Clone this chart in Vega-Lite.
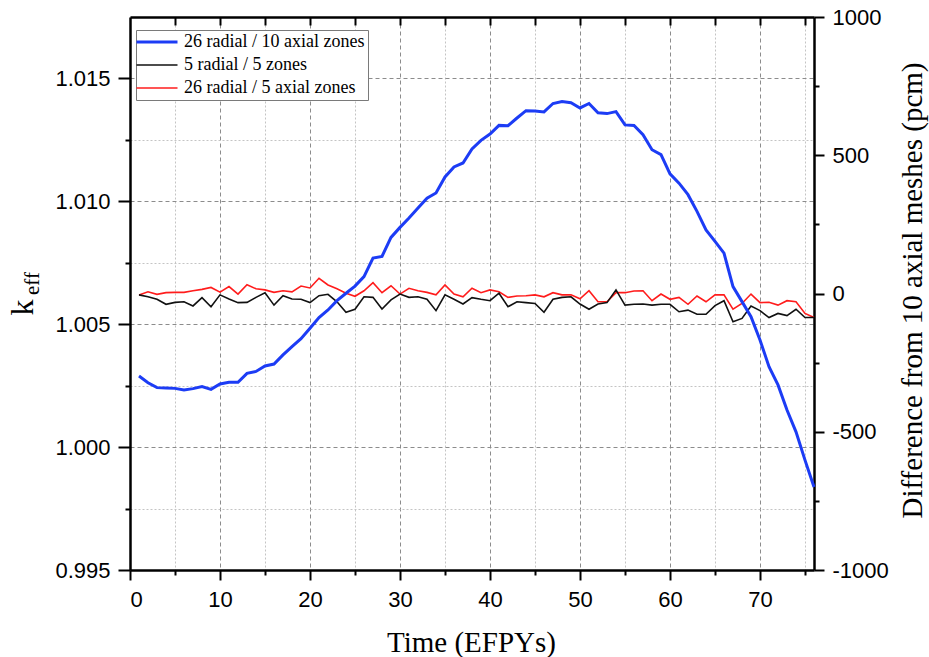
{
  "$schema": "https://vega.github.io/schema/vega-lite/v6.json",
  "width": 684,
  "height": 553,
  "autosize": {"type": "none"},
  "padding": {"left": 130, "top": 17, "right": 115, "bottom": 87},
  "background": "white",
  "config": {
    "view": {"stroke": null},
    "axis": {
      "labelFont": "Liberation Sans",
      "labelFontSize": 22,
      "labelColor": "black",
      "titleFont": "Liberation Serif",
      "titleFontWeight": "normal",
      "titleColor": "black",
      "domainColor": "black",
      "tickColor": "black",
      "domainWidth": 2.5,
      "tickWidth": 2
    }
  },
  "datasets": {
    "keff": [
      {"t":1,"k":1.00289},{"t":2,"k":1.00262},{"t":3,"k":1.00242},{"t":4,"k":1.00241},{"t":5,"k":1.00239},
      {"t":6,"k":1.00232},{"t":7,"k":1.00238},{"t":8,"k":1.00246},{"t":9,"k":1.00235},{"t":10,"k":1.00257},
      {"t":11,"k":1.00264},{"t":12,"k":1.00264},{"t":13,"k":1.00300},{"t":14,"k":1.00308},{"t":15,"k":1.00330},
      {"t":16,"k":1.00338},{"t":17,"k":1.00375},{"t":18,"k":1.00409},{"t":19,"k":1.00441},{"t":20,"k":1.00484},
      {"t":21,"k":1.00527},{"t":22,"k":1.00558},{"t":23,"k":1.00596},{"t":24,"k":1.00626},{"t":25,"k":1.00655},
      {"t":26,"k":1.00694},{"t":27,"k":1.00769},{"t":28,"k":1.00776},{"t":29,"k":1.00853},{"t":30,"k":1.00894},
      {"t":31,"k":1.00932},{"t":32,"k":1.00973},{"t":33,"k":1.01013},{"t":34,"k":1.01034},{"t":35,"k":1.01099},
      {"t":36,"k":1.01140},{"t":37,"k":1.01156},{"t":38,"k":1.01213},{"t":39,"k":1.01248},{"t":40,"k":1.01274},
      {"t":41,"k":1.01309},{"t":42,"k":1.01308},{"t":43,"k":1.01339},{"t":44,"k":1.01369},{"t":45,"k":1.01368},
      {"t":46,"k":1.01364},{"t":47,"k":1.01398},{"t":48,"k":1.01406},{"t":49,"k":1.01401},{"t":50,"k":1.01380},
      {"t":51,"k":1.01398},{"t":52,"k":1.01360},{"t":53,"k":1.01357},{"t":54,"k":1.01365},{"t":55,"k":1.01311},
      {"t":56,"k":1.01309},{"t":57,"k":1.01271},{"t":58,"k":1.01210},{"t":59,"k":1.01190},{"t":60,"k":1.01112},
      {"t":61,"k":1.01074},{"t":62,"k":1.01027},{"t":63,"k":1.00959},{"t":64,"k":1.00884},{"t":65,"k":1.00837},
      {"t":66,"k":1.00789},{"t":67,"k":1.00653},{"t":68,"k":1.00592},{"t":69,"k":1.00531},{"t":70,"k":1.00436},
      {"t":71,"k":1.00327},{"t":72,"k":1.00253},{"t":73,"k":1.00151},{"t":74,"k":1.00062},{"t":75,"k":0.99947},
      {"t":76,"k":0.99838}
    ],
    "diff": [
      {"t":1,"s":"26 radial / 5 axial zones","p":-5},{"t":2,"s":"26 radial / 5 axial zones","p":6},{"t":3,"s":"26 radial / 5 axial zones","p":-3},{"t":4,"s":"26 radial / 5 axial zones","p":3},{"t":5,"s":"26 radial / 5 axial zones","p":4},
      {"t":6,"s":"26 radial / 5 axial zones","p":4},{"t":7,"s":"26 radial / 5 axial zones","p":10},{"t":8,"s":"26 radial / 5 axial zones","p":15},{"t":9,"s":"26 radial / 5 axial zones","p":22},{"t":10,"s":"26 radial / 5 axial zones","p":5},
      {"t":11,"s":"26 radial / 5 axial zones","p":25},{"t":12,"s":"26 radial / 5 axial zones","p":-2},{"t":13,"s":"26 radial / 5 axial zones","p":32},{"t":14,"s":"26 radial / 5 axial zones","p":17},{"t":15,"s":"26 radial / 5 axial zones","p":13},
      {"t":16,"s":"26 radial / 5 axial zones","p":4},{"t":17,"s":"26 radial / 5 axial zones","p":10},{"t":18,"s":"26 radial / 5 axial zones","p":6},{"t":19,"s":"26 radial / 5 axial zones","p":27},{"t":20,"s":"26 radial / 5 axial zones","p":20},
      {"t":21,"s":"26 radial / 5 axial zones","p":55},{"t":22,"s":"26 radial / 5 axial zones","p":31},{"t":23,"s":"26 radial / 5 axial zones","p":17},{"t":24,"s":"26 radial / 5 axial zones","p":1},{"t":25,"s":"26 radial / 5 axial zones","p":-10},
      {"t":26,"s":"26 radial / 5 axial zones","p":10},{"t":27,"s":"26 radial / 5 axial zones","p":39},{"t":28,"s":"26 radial / 5 axial zones","p":3},{"t":29,"s":"26 radial / 5 axial zones","p":28},{"t":30,"s":"26 radial / 5 axial zones","p":-2},
      {"t":31,"s":"26 radial / 5 axial zones","p":19},{"t":32,"s":"26 radial / 5 axial zones","p":10},{"t":33,"s":"26 radial / 5 axial zones","p":4},{"t":34,"s":"26 radial / 5 axial zones","p":-5},{"t":35,"s":"26 radial / 5 axial zones","p":31},
      {"t":36,"s":"26 radial / 5 axial zones","p":-2},{"t":37,"s":"26 radial / 5 axial zones","p":-12},{"t":38,"s":"26 radial / 5 axial zones","p":19},{"t":39,"s":"26 radial / 5 axial zones","p":3},{"t":40,"s":"26 radial / 5 axial zones","p":13},
      {"t":41,"s":"26 radial / 5 axial zones","p":6},{"t":42,"s":"26 radial / 5 axial zones","p":-14},{"t":43,"s":"26 radial / 5 axial zones","p":-9},{"t":44,"s":"26 radial / 5 axial zones","p":-8},{"t":45,"s":"26 radial / 5 axial zones","p":-5},
      {"t":46,"s":"26 radial / 5 axial zones","p":-12},{"t":47,"s":"26 radial / 5 axial zones","p":3},{"t":48,"s":"26 radial / 5 axial zones","p":-5},{"t":49,"s":"26 radial / 5 axial zones","p":-5},{"t":50,"s":"26 radial / 5 axial zones","p":-19},
      {"t":51,"s":"26 radial / 5 axial zones","p":10},{"t":52,"s":"26 radial / 5 axial zones","p":-30},{"t":53,"s":"26 radial / 5 axial zones","p":-30},{"t":54,"s":"26 radial / 5 axial zones","p":3},{"t":55,"s":"26 radial / 5 axial zones","p":3},
      {"t":56,"s":"26 radial / 5 axial zones","p":9},{"t":57,"s":"26 radial / 5 axial zones","p":10},{"t":58,"s":"26 radial / 5 axial zones","p":-26},{"t":59,"s":"26 radial / 5 axial zones","p":-2},{"t":60,"s":"26 radial / 5 axial zones","p":-21},
      {"t":61,"s":"26 radial / 5 axial zones","p":-14},{"t":62,"s":"26 radial / 5 axial zones","p":-39},{"t":63,"s":"26 radial / 5 axial zones","p":-9},{"t":64,"s":"26 radial / 5 axial zones","p":-30},{"t":65,"s":"26 radial / 5 axial zones","p":-5},
      {"t":66,"s":"26 radial / 5 axial zones","p":-5},{"t":67,"s":"26 radial / 5 axial zones","p":-57},{"t":68,"s":"26 radial / 5 axial zones","p":-36},{"t":69,"s":"26 radial / 5 axial zones","p":-2},{"t":70,"s":"26 radial / 5 axial zones","p":-33},
      {"t":71,"s":"26 radial / 5 axial zones","p":-32},{"t":72,"s":"26 radial / 5 axial zones","p":-42},{"t":73,"s":"26 radial / 5 axial zones","p":-26},{"t":74,"s":"26 radial / 5 axial zones","p":-30},{"t":75,"s":"26 radial / 5 axial zones","p":-72},
      {"t":76,"s":"26 radial / 5 axial zones","p":-87},
      {"t":1,"s":"5 radial / 5 zones","p":-5},{"t":2,"s":"5 radial / 5 zones","p":-12},{"t":3,"s":"5 radial / 5 zones","p":-21},{"t":4,"s":"5 radial / 5 zones","p":-39},{"t":5,"s":"5 radial / 5 zones","p":-32},
      {"t":6,"s":"5 radial / 5 zones","p":-30},{"t":7,"s":"5 radial / 5 zones","p":-45},{"t":8,"s":"5 radial / 5 zones","p":-15},{"t":9,"s":"5 radial / 5 zones","p":-48},{"t":10,"s":"5 radial / 5 zones","p":-5},
      {"t":11,"s":"5 radial / 5 zones","p":-20},{"t":12,"s":"5 radial / 5 zones","p":-33},{"t":13,"s":"5 radial / 5 zones","p":-32},{"t":14,"s":"5 radial / 5 zones","p":-14},{"t":15,"s":"5 radial / 5 zones","p":3},
      {"t":16,"s":"5 radial / 5 zones","p":-42},{"t":17,"s":"5 radial / 5 zones","p":-8},{"t":18,"s":"5 radial / 5 zones","p":-20},{"t":19,"s":"5 radial / 5 zones","p":-21},{"t":20,"s":"5 radial / 5 zones","p":-33},
      {"t":21,"s":"5 radial / 5 zones","p":-8},{"t":22,"s":"5 radial / 5 zones","p":-3},{"t":23,"s":"5 radial / 5 zones","p":-30},{"t":24,"s":"5 radial / 5 zones","p":-68},{"t":25,"s":"5 radial / 5 zones","p":-57},
      {"t":26,"s":"5 radial / 5 zones","p":-12},{"t":27,"s":"5 radial / 5 zones","p":-14},{"t":28,"s":"5 radial / 5 zones","p":-56},{"t":29,"s":"5 radial / 5 zones","p":-23},{"t":30,"s":"5 radial / 5 zones","p":-2},
      {"t":31,"s":"5 radial / 5 zones","p":-14},{"t":32,"s":"5 radial / 5 zones","p":-12},{"t":33,"s":"5 radial / 5 zones","p":-21},{"t":34,"s":"5 radial / 5 zones","p":-62},{"t":35,"s":"5 radial / 5 zones","p":-5},
      {"t":36,"s":"5 radial / 5 zones","p":-21},{"t":37,"s":"5 radial / 5 zones","p":-38},{"t":38,"s":"5 radial / 5 zones","p":-15},{"t":39,"s":"5 radial / 5 zones","p":-21},{"t":40,"s":"5 radial / 5 zones","p":-26},
      {"t":41,"s":"5 radial / 5 zones","p":1},{"t":42,"s":"5 radial / 5 zones","p":-48},{"t":43,"s":"5 radial / 5 zones","p":-30},{"t":44,"s":"5 radial / 5 zones","p":-33},{"t":45,"s":"5 radial / 5 zones","p":-36},
      {"t":46,"s":"5 radial / 5 zones","p":-68},{"t":47,"s":"5 radial / 5 zones","p":-21},{"t":48,"s":"5 radial / 5 zones","p":-14},{"t":49,"s":"5 radial / 5 zones","p":-12},{"t":50,"s":"5 radial / 5 zones","p":-38},
      {"t":51,"s":"5 radial / 5 zones","p":-57},{"t":52,"s":"5 radial / 5 zones","p":-38},{"t":53,"s":"5 radial / 5 zones","p":-33},{"t":54,"s":"5 radial / 5 zones","p":13},{"t":55,"s":"5 radial / 5 zones","p":-42},
      {"t":56,"s":"5 radial / 5 zones","p":-39},{"t":57,"s":"5 radial / 5 zones","p":-38},{"t":58,"s":"5 radial / 5 zones","p":-42},{"t":59,"s":"5 radial / 5 zones","p":-39},{"t":60,"s":"5 radial / 5 zones","p":-39},
      {"t":61,"s":"5 radial / 5 zones","p":-66},{"t":62,"s":"5 radial / 5 zones","p":-60},{"t":63,"s":"5 radial / 5 zones","p":-75},{"t":64,"s":"5 radial / 5 zones","p":-75},{"t":65,"s":"5 radial / 5 zones","p":-44},
      {"t":66,"s":"5 radial / 5 zones","p":-26},{"t":67,"s":"5 radial / 5 zones","p":-102},{"t":68,"s":"5 radial / 5 zones","p":-90},{"t":69,"s":"5 radial / 5 zones","p":-45},{"t":70,"s":"5 radial / 5 zones","p":-62},
      {"t":71,"s":"5 radial / 5 zones","p":-87},{"t":72,"s":"5 radial / 5 zones","p":-72},{"t":73,"s":"5 radial / 5 zones","p":-80},{"t":74,"s":"5 radial / 5 zones","p":-57},{"t":75,"s":"5 radial / 5 zones","p":-87},
      {"t":76,"s":"5 radial / 5 zones","p":-87}
    ]
  },
  "layer": [
    {
      "data": {"name": "keff"},
      "mark": {"type": "line", "strokeOpacity": 0},
      "encoding": {
        "x": {"field": "t", "type": "quantitative", "scale": {"domain": [0, 76], "nice": false},
          "axis": {"orient": "bottom", "values": [5,15,25,35,45,55,65,75], "labels": false, "tickSize": 5, "domain": false, "title": null,
            "grid": true, "gridColor": "#c4c4c4", "gridDash": [2, 2], "gridWidth": 1}},
        "y": {"field": "k", "type": "quantitative", "scale": {"domain": [0.995, 1.0175], "nice": false, "zero": false},
          "axis": {"orient": "left", "values": [0.9975, 1.0025, 1.0075, 1.0125], "labels": false, "tickSize": 5, "domain": false,
            "grid": true, "gridColor": "#c4c4c4", "gridDash": [2, 2], "gridWidth": 1,
            "title": "eff", "titleFontSize": 21, "titleAngle": 270, "titleX": -92, "titleY": 266, "titleAlign": "center", "titleBaseline": "alphabetic"}}
      }
    },
    {
      "data": {"name": "keff"},
      "mark": {"type": "line", "strokeOpacity": 0},
      "encoding": {
        "x": {"field": "t", "type": "quantitative", "scale": {"domain": [0, 76], "nice": false},
          "axis": {"orient": "top", "values": [5,10,15,20,25,30,35,40,45,50,55,60,65,70,75], "labels": false, "tickSize": -8, "grid": false, "title": null}},
        "y": {"field": "k", "type": "quantitative", "scale": {"domain": [0.995, 1.0175], "nice": false, "zero": false}, "axis": null}
      }
    },
    {
      "data": {"name": "diff"},
      "mark": {"type": "line", "strokeOpacity": 0},
      "encoding": {
        "x": {"field": "t", "type": "quantitative", "scale": {"domain": [0, 76], "nice": false}, "axis": null},
        "y": {"field": "p", "type": "quantitative", "scale": {"domain": [-1000, 1000], "nice": false},
          "axis": {"orient": "right", "values": [-750, -250, 250, 750], "labels": false, "tickSize": 5, "domain": false, "grid": false, "title": null}},
        "detail": {"field": "s"}
      }
    },
    {
      "data": {"name": "diff"},
      "mark": {"type": "line", "strokeWidth": 1.6},
      "encoding": {
        "x": {"field": "t", "type": "quantitative", "scale": {"domain": [0, 76], "nice": false}, "axis": null},
        "y": {"field": "p", "type": "quantitative", "scale": {"domain": [-1000, 1000], "nice": false},
          "axis": {"orient": "right", "values": [-1000, -500, 0, 500, 1000], "labelExpr": "datum.value < 0 ? '-' + abs(datum.value) : '' + datum.value", "tickSize": 10, "labelPadding": 8, "grid": false,
            "title": "Difference from 10 axial meshes (pcm)", "titleFontSize": 29, "titleAngle": 270, "titleX": 107, "titleY": 273, "titleAlign": "center", "titleBaseline": "alphabetic"}},
        "color": {"field": "s", "type": "nominal",
          "scale": {"domain": ["26 radial / 10 axial zones", "5 radial / 5 zones", "26 radial / 5 axial zones"], "range": ["#1c3cf5", "#111111", "#ff1c1c"]},
          "legend": {"title": null, "orient": "none", "legendX": 6, "legendY": 13, "fillColor": "white", "strokeColor": "#7a7a7a", "padding": 3,
            "labelFont": "Liberation Serif", "labelFontSize": 18, "labelColor": "black", "labelLimit": 400, "labelOffset": 18,
            "symbolType": "stroke", "symbolSize": 1681, "symbolOffset": 9, "rowPadding": 5,
            "encode": {"symbols": {"update": {"strokeWidth": {"signal": "datum.value === '26 radial / 10 axial zones' ? 3 : 1.6"}}}}}}
      }
    },
    {
      "data": {"name": "keff"},
      "mark": {"type": "line", "strokeWidth": 3},
      "encoding": {
        "x": {"field": "t", "type": "quantitative", "scale": {"domain": [0, 76], "nice": false},
          "axis": {"orient": "bottom", "values": [0,10,20,30,40,50,60,70], "tickSize": 10, "labelPadding": 26, "labelBaseline": "alphabetic",
            "grid": true, "gridColor": "#8c8c8c", "gridDash": [4, 3], "gridWidth": 1,
            "title": "Time (EFPYs)", "titleFontSize": 29, "titleX": 341, "titleY": 81, "titleAlign": "center", "titleBaseline": "alphabetic"}},
        "y": {"field": "k", "type": "quantitative", "scale": {"domain": [0.995, 1.0175], "nice": false, "zero": false},
          "axis": {"orient": "left", "values": [0.995, 1.0, 1.005, 1.01, 1.015], "format": ".3f", "tickSize": 12, "labelPadding": 8,
            "grid": true, "gridColor": "#8c8c8c", "gridDash": [4, 3], "gridWidth": 1,
            "title": "k", "titleFontSize": 32, "titleAngle": 270, "titleX": -98, "titleY": 290, "titleAlign": "center", "titleBaseline": "alphabetic"}},
        "color": {"datum": "26 radial / 10 axial zones", "type": "nominal",
          "scale": {"domain": ["26 radial / 10 axial zones", "5 radial / 5 zones", "26 radial / 5 axial zones"], "range": ["#1c3cf5", "#111111", "#ff1c1c"]}}
      }
    }
  ],
  "resolve": {
    "scale": {"y": "independent"},
    "axis": {"x": "independent", "y": "independent"}
  }
}
